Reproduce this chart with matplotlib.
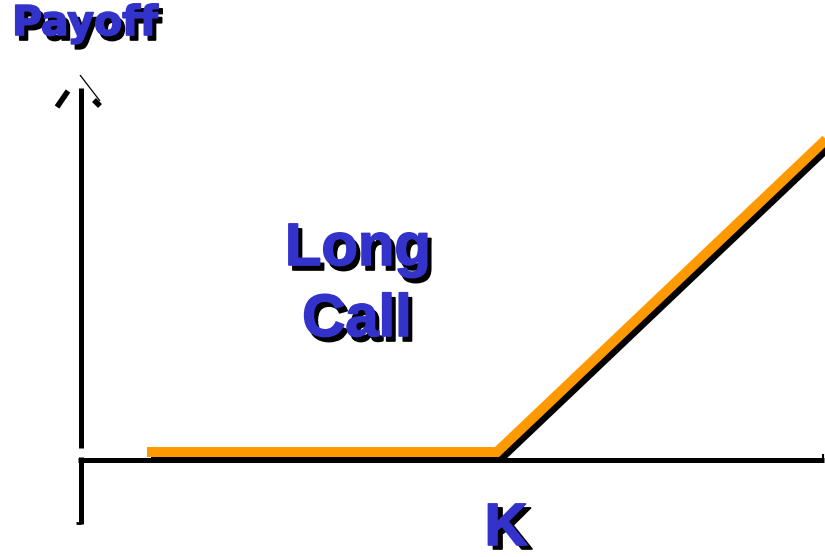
import matplotlib
matplotlib.use("Agg")
import matplotlib.pyplot as plt
import matplotlib.transforms as mtransforms
import matplotlib.patheffects as pe

# Long call payoff at expiry
strike = 100
prices = [30, 100, 170]
payoffs = [0, 0, 70]

title_text = "Payoff"
label_lines = ["Long", "Call"]
strike_label = "K"

BLUE = "#3333CC"
ORANGE = "#FF9900"
W, H = 825, 557

fig = plt.figure(figsize=(W / 100, H / 100), dpi=100)
ax = fig.add_axes([0, 0, 1, 1])
ax.set_xlim(0.6, 165.6)
ax.set_ylim(-22.1, 95.16)
ax.axis("off")

# pixel-based transform for the hand-drawn axes and labels
px = mtransforms.Affine2D().scale(1 / W, -1 / H).translate(0, 1) + fig.transFigure


def seg(xs, ys, lw=3.6, **kw):
    ax.plot(xs, ys, color="black", lw=lw, transform=px, clip_on=False,
            solid_capstyle="butt", **kw)


# axes: upper vertical with arrow, lower corner
seg([80.5, 80.5], [88, 448])
seg([78, 824], [459.5, 459.5])
seg([80.5, 80.5], [457, 524])
seg([76, 80.5], [522.5, 522.5], lw=2)
seg([822.5, 822.5], [454, 460], lw=1.5)
seg([57, 68], [107, 91], lw=4, solid_joinstyle="round")
seg([80, 100], [75, 101], lw=0.9)
seg([94, 100], [100, 106], lw=4)

# payoff line with drop shadow
shadow = mtransforms.offset_copy(ax.transData, fig=fig, x=4, y=-5, units="dots")
ax.plot(prices, payoffs, color="black", lw=7.2, transform=shadow,
        solid_joinstyle="miter", solid_capstyle="butt")
ax.plot(prices, payoffs, color=ORANGE, lw=7.2,
        solid_joinstyle="miter", solid_capstyle="butt")


def shadow_text(x, y, s, size, family, dx=4, dy=5, **kw):
    for xx, yy, c in ((x + dx, y + dy, "black"), (x, y, BLUE)):
        ax.text(xx, yy, s, transform=px, color=c, fontsize=size,
                fontfamily=family, fontweight="bold", va="baseline",
                path_effects=[pe.withStroke(linewidth=1.2, foreground=c)], **kw)


shadow_text(12, 35, title_text, 29.5, "DejaVu Sans", ha="left")
shadow_text(358, 265, label_lines[0], 43, "Liberation Sans", ha="center")
shadow_text(357, 336, label_lines[1], 43, "Liberation Sans", ha="center")
shadow_text(506, 545, strike_label, 43, "Liberation Sans", dx=5, dy=4, ha="center")

fig.savefig("out.png", dpi=100)
